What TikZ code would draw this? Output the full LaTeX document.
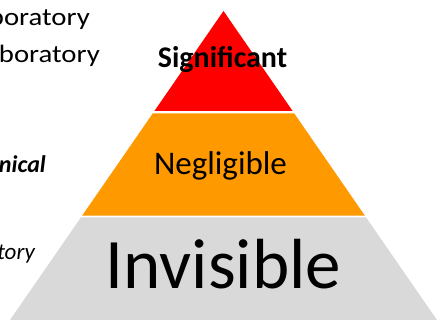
\documentclass[tikz,border=0pt]{standalone}
\usepackage{fontspec}
\setmainfont{Carlito}
\definecolor{topred}{HTML}{FF0000}
\definecolor{midorange}{HTML}{FF9900}
\definecolor{basegrey}{HTML}{D9D9D9}

\begin{document}
\begin{tikzpicture}[x=1pt, y=-1pt,
        layer/.style={draw=none},
        level/.style={anchor=base, inner sep=0pt},
        side/.style={anchor=base east, inner sep=0pt, font=\fontsize{25}{30}\selectfont}
    ]
        \useasboundingbox (0,0) rectangle (444,328);
        \clip (0,0) rectangle (444,328);

        % Pyramid layers
        \fill[layer, topred] (223.5,11) -- (292.6,111) -- (154.4,111) -- cycle;
        \fill[layer, midorange] (152.7,113.5) -- (294.3,113.5) -- (364.9,215.7) -- (82.1,215.7) -- cycle;
        \fill[layer, basegrey] (81,217.3) -- (366,217.3) -- (437,320) -- (10,320) -- cycle;

        % Level labels
        \node[level, font=\fontsize{30}{36}\selectfont\bfseries] (sig) at (222.5,68) {Significant};
        \node[level, font=\fontsize{33}{40}\selectfont] (neg) at (220.5,175) {Negligible};
        \node[level, font=\fontsize{71}{85}\selectfont] (inv) at (223.5,289) {Invisible};

        % Labels on the left (cut by the frame)
        \node[side] (lab1) at (90,26) {\scalebox{1.15}[1]{boratory}};
        \node[side] (lab2) at (100,63) {\scalebox{1.15}[1]{boratory}};
        \node[side, font=\fontsize{24}{29}\selectfont\bfseries\itshape] (tech) at (46,173) {nical};
        \node[side, font=\fontsize{23}{28}\selectfont\itshape] (tory) at (35,260) {tory};
    \end{tikzpicture}
\end{document}
